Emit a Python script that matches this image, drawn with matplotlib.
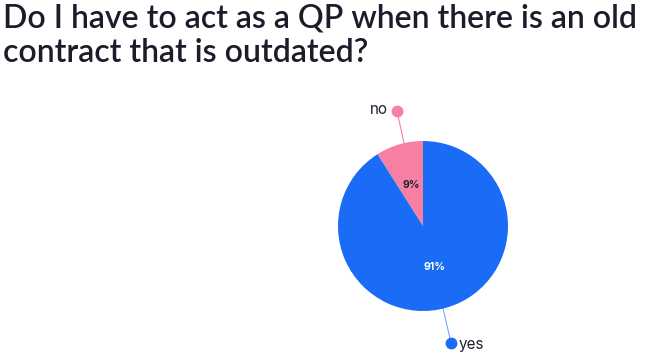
import matplotlib
matplotlib.use("Agg")
import matplotlib.pyplot as plt

labels = ["no", "yes"]
shares = [9, 91]
colors = ["#f77fa2", "#1a6cf6"]

fig = plt.figure(figsize=(6.5, 3.58), dpi=100)
ax = fig.add_axes([0, 0, 1, 1])

wedges, _, autotexts = ax.pie(
    shares, colors=colors, startangle=90, counterclock=True,
    center=(423, 132), radius=85, autopct="%d%%", pctdistance=0.5,
    wedgeprops=dict(linewidth=0), frame=True,
    textprops=dict(fontsize=7.5, family="Inter", fontweight="bold"),
)
ax.set_xlim(0, 650)
ax.set_ylim(0, 358)
ax.set_aspect("equal")
ax.axis("off")
autotexts[0].set_color("#222233")
autotexts[1].set_color("white")

# leader lines with dot markers
ax.plot([404, 397], [215, 247], color="#f77fa2", lw=0.8)
ax.plot([397], [247], "o", color="#f77fa2", ms=7.5)
ax.text(388, 248, labels[0], ha="right", va="center", fontsize=11, family="Inter", color="#222233")

ax.plot([443, 451], [50, 15], color="#1a6cf6", lw=0.8, alpha=0.6)
ax.plot([451], [15], "o", color="#1a6cf6", ms=7.5)
ax.text(459, 13, labels[1], ha="left", va="center", fontsize=11, family="Inter", color="#222233")

fig.text(0.005, 0.99, "Do I have to act as a QP when there is an old\ncontract that is outdated?",
         ha="left", va="top", fontsize=23, family="Lato", fontweight="semibold",
         color="#1c1c2a", linespacing=1.2)

fig.savefig("out.png", dpi=100)
